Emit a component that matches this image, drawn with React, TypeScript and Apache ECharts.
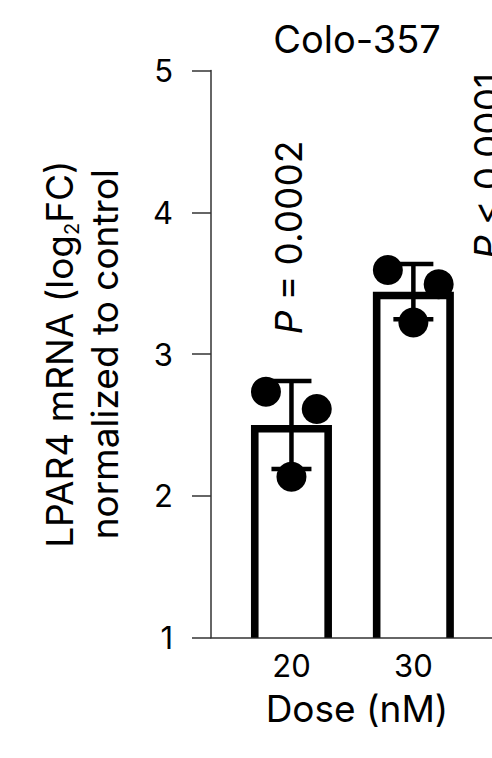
import React, { useEffect, useRef } from "react";
import * as echarts from "echarts";

const doses = [20, 30];
const doseLabels = ["20", "30"];
const barMeans = [2.5, 3.44];
const barSD = [0.31, 0.195];
const replicates20 = [2.735, 2.135, 2.613];
const replicates30 = [3.593, 3.223, 3.492];
const replicates = [replicates20, replicates30];
const yMin = 1;
const yMax = 5;
const pLabels = ["P = 0.0002", "P < 0.0001"];
const title = "Colo-357";

const FONT = "Inter, 'Liberation Sans', Arial, sans-serif";

export default function App() {
  const ref = useRef<HTMLDivElement>(null);
  useEffect(() => {
    document.body.style.margin = "0";
    const chart = echarts.init(ref.current!, null, { renderer: "svg" });
    const jitterPx = [-25.5, 0, 25.3];
    const barData = doses.map((d, i) => [d, barMeans[i]]);
    const errData = doses.map((d, i) => [d, barMeans[i], barSD[i]]);
    const dotData: number[][] = [];
    doses.forEach((d, i) => replicates[i].forEach((v, j) => dotData.push([d, v, j])));

    chart.setOption({
      animation: false,
      title: {
        text: title,
        left: 352,
        top: 15,
        textAlign: "center",
        textStyle: { fontFamily: FONT, fontSize: 38, fontWeight: "normal", color: "#000" },
      },
      grid: { left: 211, right: 0, top: 70.5, bottom: 120.3 },
      xAxis: {
        type: "value",
        min: 13.4,
        max: 36.45,
        name: "Dose (nM)",
        nameLocation: "middle",
        nameGap: 52,
        nameTextStyle: { fontFamily: FONT, fontSize: 37, color: "#000", padding: [0, 0, 0, 11] },
        axisLine: { show: true, lineStyle: { color: "#333", width: 1.5 } },
        axisTick: { show: false },
        splitLine: { show: false },
        axisLabel: {
          customValues: doses,
          formatter: (v: number) => doseLabels[doses.indexOf(v)] ?? "",
          fontFamily: FONT,
          fontSize: 31,
          color: "#000",
          margin: 12,
        },
      },
      yAxis: {
        type: "value",
        min: yMin,
        max: yMax,
        interval: 1,
        name: "{a|LPAR4 mRNA (log}{sub|2}{a|FC)}\n{a|normalized to control}",
        nameLocation: "middle",
        nameRotate: 90,
        nameGap: 84,
        nameTextStyle: {
          fontFamily: FONT,
          fontSize: 37,
          lineHeight: 45,
          color: "#000",
          rich: {
            a: { fontFamily: FONT, fontSize: 37, lineHeight: 45, color: "#000" },
            sub: { fontFamily: FONT, fontSize: 20, lineHeight: 10, verticalAlign: "bottom", color: "#000" },
          },
        },
        axisLine: { show: true, lineStyle: { color: "#333", width: 1.5 } },
        axisTick: { show: true, length: 19, lineStyle: { color: "#333", width: 1.5 } },
        splitLine: { show: false },
        axisLabel: { fontFamily: FONT, fontSize: 31, color: "#000", margin: 38 },
      },
      series: [
        {
          type: "custom",
          z: 1,
          data: barData,
          renderItem: (params: any, api: any) => {
            const top = api.coord([api.value(0), api.value(1)]);
            const base = api.coord([api.value(0), yMin]);
            const w = 81;
            const sw = 7.6;
            const l = top[0] - w / 2 + sw / 2;
            const r = top[0] + w / 2 - sw / 2;
            const t = top[1] + sw / 2;
            return {
              type: "polyline",
              shape: { points: [[l, base[1]], [l, t], [r, t], [r, base[1]]] },
              style: { stroke: "#000", lineWidth: sw, fill: null, lineJoin: "miter", lineCap: "butt" },
            };
          },
        },
        {
          type: "custom",
          z: 2,
          data: errData,
          renderItem: (params: any, api: any) => {
            const x = api.value(0);
            const m = api.value(1);
            const s = api.value(2);
            const hi = api.coord([x, m + s]);
            const lo = api.coord([x, m - s]);
            const cw = 20;
            const st = { stroke: "#000", lineWidth: 4.5 };
            return {
              type: "group",
              children: [
                { type: "line", shape: { x1: hi[0], y1: hi[1], x2: lo[0], y2: lo[1] }, style: st },
                { type: "line", shape: { x1: hi[0] - cw, y1: hi[1], x2: hi[0] + cw, y2: hi[1] }, style: st },
                { type: "line", shape: { x1: lo[0] - cw, y1: lo[1], x2: lo[0] + cw, y2: lo[1] }, style: st },
              ],
            };
          },
        },
        {
          type: "custom",
          z: 3,
          data: dotData,
          renderItem: (params: any, api: any) => {
            const p = api.coord([api.value(0), api.value(1)]);
            return {
              type: "circle",
              shape: { cx: p[0] + jitterPx[api.value(2)], cy: p[1], r: 15 },
              style: { fill: "#000" },
            };
          },
        },
      ],
      graphic: [
        {
          type: "text",
          x: 288,
          y: 237.5,
          rotation: Math.PI / 2,
          style: {
            text: "{i|P}" + pLabels[0].slice(1),
            font: `37px ${FONT}`,
            fill: "#000",
            align: "center",
            verticalAlign: "middle",
            rich: { i: { fontStyle: "italic", fontFamily: FONT, fontSize: 37 } },
          },
        },
        {
          type: "text",
          x: 487,
          y: 166,
          rotation: Math.PI / 2,
          style: {
            text: "{i|P}" + pLabels[1].slice(1),
            font: `37px ${FONT}`,
            fill: "#000",
            align: "center",
            verticalAlign: "middle",
            rich: { i: { fontStyle: "italic", fontFamily: FONT, fontSize: 37 } },
          },
        },
      ],
    });
    return () => chart.dispose();
  }, []);
  return <div ref={ref} style={{ width: 492, height: 758 }} />;
}
